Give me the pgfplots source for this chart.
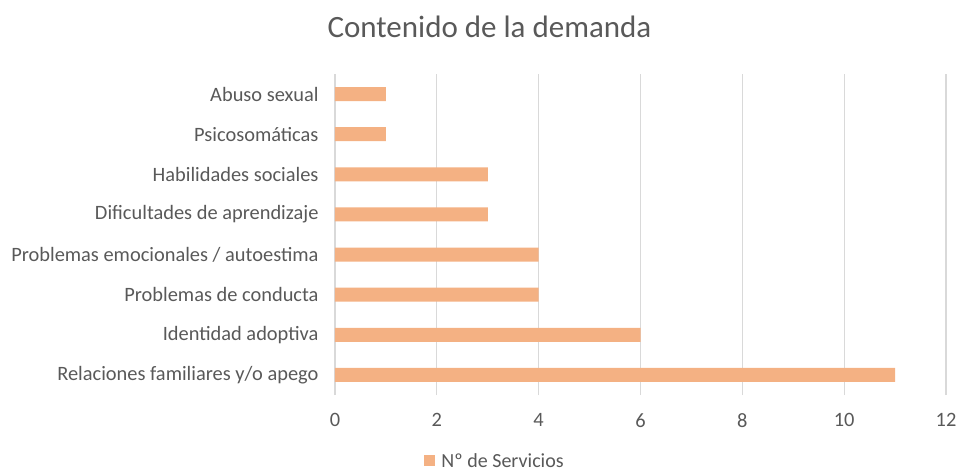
\documentclass[border=0pt]{standalone}
\usepackage{pgfplots}
\pgfplotsset{compat=1.18}
\usepackage{fontspec}
\setmainfont{Carlito}
\definecolor{barc}{HTML}{F4B183}
\definecolor{txt}{HTML}{595959}
\definecolor{gridc}{HTML}{D9D9D9}
\begin{document}
\begin{tikzpicture}[x=1pt,y=1pt]
\useasboundingbox (0,0) rectangle (958,472);
\node[font=\fontsize{31}{36}\selectfont, text=txt] at (489.5,445) {Contenido de la demanda};
\begin{axis}[
  at={(335pt,77pt)}, anchor=south west,
  width=611pt, height=321pt, scale only axis,
  xbar, bar width=14pt,
  xmin=0, xmax=12, xtick={0,2,...,12},
  ymin=-0.5, ymax=7.5,
  ytick={0,...,7},
  yticklabels={Relaciones familiares y/o apego, Identidad adoptiva, Problemas de conducta, Problemas emocionales / autoestima, Dificultades de aprendizaje, Habilidades sociales, Psicosomáticas, Abuso sexual},
  axis line style={draw=none},
  major tick length=0pt,
  xmajorgrids, grid style={gridc, line width=1.3pt},
  ticklabel style={font=\fontsize{20.4}{24}\selectfont, text=txt},
  /pgf/number format/assume math mode=true,
  yticklabel style={xshift=-13pt},
  xticklabel style={yshift=-15pt},
  legend style={at={(axis description cs:0.262,-0.205)}, anchor=center, draw=none, font=\fontsize{20}{24}\selectfont, text=txt, inner ysep=0pt},
  legend image code/.code={\fill[#1] (0pt,-5.5pt) rectangle (11pt,5.5pt); \path (15pt,0pt);},
]
\addplot[fill=barc, draw=none] coordinates {(11,0) (6,1) (4,2) (4,3) (3,4) (3,5) (1,6) (1,7)};
\addlegendentry{Nº de Servicios}
\end{axis}
\end{tikzpicture}
\end{document}
